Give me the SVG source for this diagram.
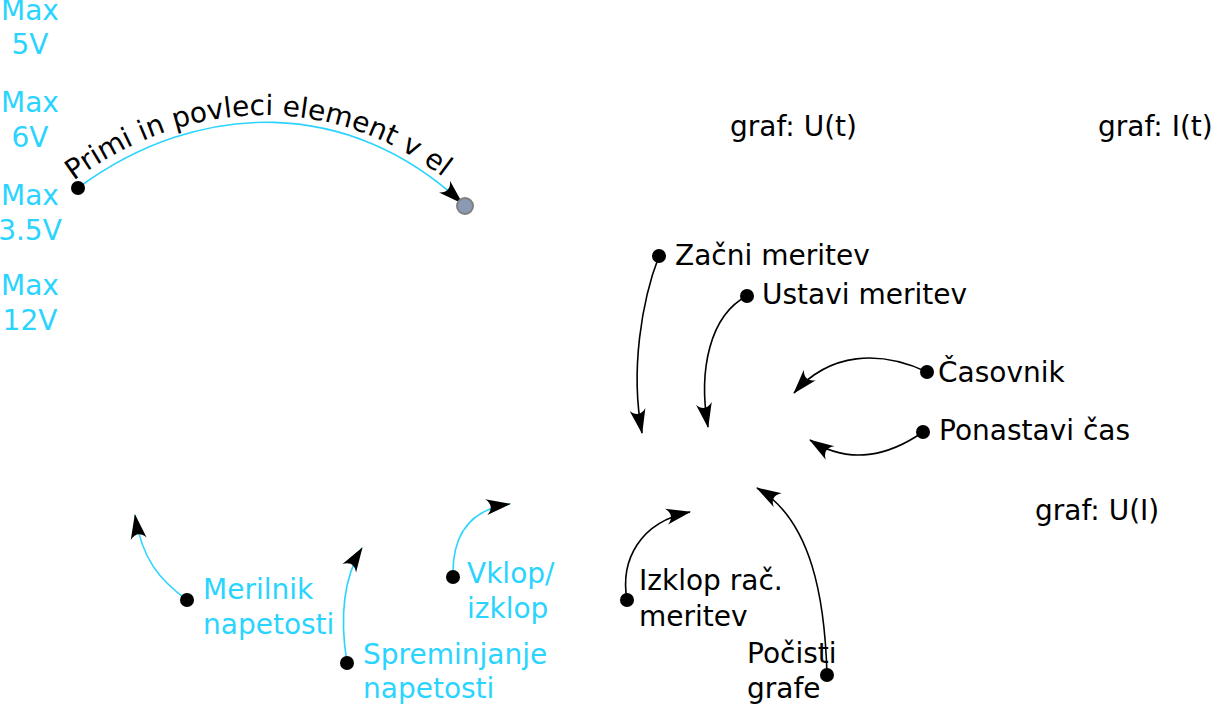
<svg xmlns="http://www.w3.org/2000/svg" width="1212" height="705" viewBox="0 0 1212 705">
<style>
text{font-family:"DejaVu Sans","Liberation Sans",sans-serif;font-size:28px}
.k{fill:#000}
.c{fill:#2ad4ff}
.dot{fill:#000}
.lk{fill:none;stroke:#000;stroke-width:1.6}
.lc{fill:none;stroke:#2ad4ff;stroke-width:1.6}
</style>
<defs>
<marker id="ah" viewBox="-26 -10 28 20" refX="0" refY="0" markerWidth="28" markerHeight="20" markerUnits="userSpaceOnUse" orient="auto">
<path d="M1,0 L-24,-8 C-18,-3 -18,3 -24,8 Z" fill="#000"/>
</marker>
<path id="tp" d="M72,182 C196,90 352,90 470,200"/>
</defs>
<rect width="1212" height="705" fill="#fff"/>
<g id="max5"><text class="c" x="30" y="20" text-anchor="middle">Max</text><text class="c" x="30" y="54" text-anchor="middle">5V</text></g>
<g id="max6"><text class="c" x="30" y="112" text-anchor="middle">Max</text><text class="c" x="30" y="147" text-anchor="middle">6V</text></g>
<g id="max35"><text class="c" x="30" y="205" text-anchor="middle">Max</text><text class="c" x="30" y="240" text-anchor="middle">3.5V</text></g>
<g id="max12"><text class="c" x="30" y="295" text-anchor="middle">Max</text><text class="c" x="30" y="330" text-anchor="middle">12V</text></g>
<g id="connectors">
<path class="lc" d="M78,188 C200,98 350,98 462,203" marker-end="url(#ah)"/>
<path class="lk" d="M659,256 C642,300 630,370 642,433" marker-end="url(#ah)"/>
<path class="lk" d="M747,296 C710,315 698,370 708,427" marker-end="url(#ah)"/>
<path class="lk" d="M927,372 C880,350 830,352 794,393" marker-end="url(#ah)"/>
<path class="lk" d="M923,432 C890,455 850,466 810,440" marker-end="url(#ah)"/>
<path class="lk" d="M627,600 C620,560 640,522 690,512" marker-end="url(#ah)"/>
<path class="lk" d="M827,675 C825,600 812,520 757,488" marker-end="url(#ah)"/>
<path class="lc" d="M187,600 C160,580 142,560 135,515" marker-end="url(#ah)"/>
<path class="lc" d="M347,663 C340,620 342,580 362,548" marker-end="url(#ah)"/>
<path class="lc" d="M453,577 C452,540 465,510 510,504" marker-end="url(#ah)"/>
</g>
<g id="drag"><circle class="dot" cx="78" cy="188" r="7"/><text class="k"><textPath href="#tp" startOffset="2">Primi in povleci element v el</textPath></text></g>
<g id="target"><circle cx="465" cy="206" r="8" fill="#8a9ab5" stroke="#7f7f7f" stroke-width="2"/></g>
<g id="grafUt"><text class="k" x="730" y="136">graf: U(t)</text></g>
<g id="grafIt"><text class="k" x="1098" y="136">graf: I(t)</text></g>
<g id="grafUI"><text class="k" x="1035" y="520">graf: U(I)</text></g>
<g id="zacni"><circle class="dot" cx="659" cy="256" r="7"/><text class="k" x="675" y="265">Začni meritev</text></g>
<g id="ustavi"><circle class="dot" cx="747" cy="296" r="7"/><text class="k" x="762" y="304">Ustavi meritev</text></g>
<g id="casovnik"><circle class="dot" cx="927" cy="372" r="7"/><text class="k" x="938" y="382">Časovnik</text></g>
<g id="ponastavi"><circle class="dot" cx="923" cy="432" r="7"/><text class="k" x="939" y="440">Ponastavi čas</text></g>
<g id="izklop"><circle class="dot" cx="627" cy="600" r="7"/><text class="k" x="639" y="590">Izklop rač.</text><text class="k" x="639" y="626">meritev</text></g>
<g id="pocisti"><circle class="dot" cx="827" cy="675" r="7"/><text class="k" x="747" y="663">Počisti</text><text class="k" x="747" y="698">grafe</text></g>
<g id="merilnik"><circle class="dot" cx="187" cy="600" r="7"/><text class="c" x="203" y="599">Merilnik</text><text class="c" x="203" y="634">napetosti</text></g>
<g id="spreminjanje"><circle class="dot" cx="347" cy="663" r="7"/><text class="c" x="363" y="664">Spreminjanje</text><text class="c" x="363" y="698">napetosti</text></g>
<g id="vklop"><circle class="dot" cx="453" cy="577" r="7"/><text class="c" x="467" y="583">Vklop/</text><text class="c" x="467" y="618">izklop</text></g>
</svg>
